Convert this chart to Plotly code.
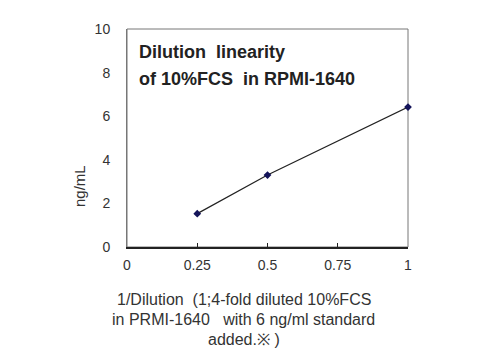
import plotly.graph_objects as go

x_vals = [0.25, 0.5, 1.0]
y_vals = [1.53, 3.30, 6.42]
x_ticks = [0, 0.25, 0.5, 0.75, 1]
x_tick_text = ["0", "0.25", "0.5", "0.75", "1"]
y_ticks = [0, 2, 4, 6, 8, 10]
title_lines = ["Dilution  linearity", "of 10%FCS  in RPMI-1640"]
x_title_lines = ["1/Dilution  (1;4-fold diluted 10%FCS",
                 "in PRMI-1640   with 6 ng/ml standard",
                 "added.※ )"]
y_title = "ng/mL"

font = "Liberation Sans, Arial, sans-serif"

fig = go.Figure()
fig.add_trace(go.Scatter(
    x=x_vals, y=y_vals, mode="lines+markers",
    line=dict(color="#222222", width=1.2),
    marker=dict(symbol="diamond", size=6, color="#14145a"),
    showlegend=False, cliponaxis=False,
))

annotations = [
    dict(text="<b>" + title_lines[0] + "</b>", xref="paper", yref="paper",
         x=0.035, y=0.895, xanchor="left", yanchor="middle", showarrow=False,
         font=dict(size=18, color="#222222", family=font)),
    dict(text="<b>" + title_lines[1] + "</b>", xref="paper", yref="paper",
         x=0.035, y=0.77, xanchor="left", yanchor="middle", showarrow=False,
         font=dict(size=18, color="#222222", family=font)),
    dict(text=y_title, xref="paper", yref="y", x=-0.167, y=2.8,
         xanchor="center", yanchor="middle", showarrow=False, textangle=-90,
         font=dict(size=15, color="#333333", family=font)),
]
for i, line in enumerate(x_title_lines):
    annotations.append(dict(text=line, xref="paper", yref="paper",
                            x=0.416, y=-(52 + 20 * i) / 218,
                            xanchor="center", yanchor="middle", showarrow=False,
                            font=dict(size=16, color="#333333", family=font)))

fig.update_layout(
    width=500, height=360,
    margin=dict(l=127, r=92, t=29, b=113),
    paper_bgcolor="white", plot_bgcolor="white",
    font=dict(family=font, size=14, color="#333333"),
    xaxis=dict(range=[0, 1], tickvals=x_ticks, ticktext=x_tick_text,
               showgrid=False, zeroline=False,
               showline=True, linecolor="#222222", linewidth=2,
               ticks="inside", ticklen=4, tickcolor="#222222",
               ticklabelstandoff=4,
               tickfont=dict(size=14, color="#333333")),
    yaxis=dict(range=[0, 10], tickvals=y_ticks,
               showgrid=False, zeroline=False,
               showline=True, linecolor="#777777", linewidth=1,
               ticks="", ticklabelstandoff=13,
               tickfont=dict(size=14, color="#333333")),
    shapes=[dict(type="rect", xref="paper", yref="paper", x0=0, y0=0, x1=1, y1=1,
                 line=dict(color="#777777", width=1), layer="below")],
    annotations=annotations,
)

fig.write_html("out.html")
